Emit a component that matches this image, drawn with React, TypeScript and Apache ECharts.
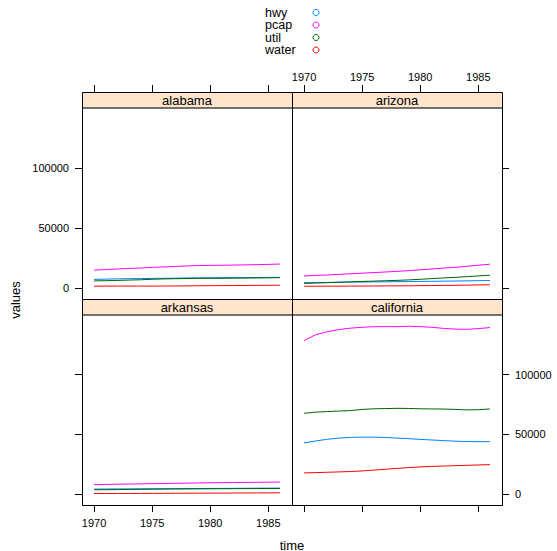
import React, { useEffect, useRef } from "react";
import * as echarts from "echarts";

const years = [1970, 1971, 1972, 1973, 1974, 1975, 1976, 1977, 1978, 1979, 1980, 1981, 1982, 1983, 1984, 1985, 1986];
const states = ["alabama", "arizona", "arkansas", "california"];
const variables = ["hwy", "pcap", "util", "water"];
const colors = ["#0080ff", "#ff00ff", "#006400", "#ff0000"];
const xTicks = [1970, 1975, 1980, 1985];
const yTicks = [0, 50000, 100000];

const alabamaHwy = [7326, 7526, 7765, 7908, 8026, 8158, 8228, 8381, 8500, 8644, 8700, 8761, 8800, 8850, 8900, 8950, 9000];
const alabamaPcap = [15033, 15502, 15972, 16406, 16763, 17316, 17733, 18112, 18480, 18881, 19012, 19120, 19250, 19400, 19600, 19800, 20100];
const alabamaUtil = [6051, 6254, 6442, 6756, 7002, 7406, 7705, 7886, 8044, 8212, 8208, 8222, 8300, 8400, 8500, 8650, 8800];
const alabamaWater = [1656, 1722, 1765, 1742, 1735, 1752, 1800, 1845, 1936, 2026, 2105, 2135, 2200, 2280, 2350, 2420, 2500];

const arizonaHwy = [4557, 4680, 4800, 4920, 5030, 5130, 5230, 5330, 5430, 5530, 5630, 5730, 5850, 5980, 6100, 6250, 6400];
const arizonaPcap = [10148, 10600, 11000, 11500, 12000, 12500, 13000, 13500, 14000, 14600, 15300, 16000, 16700, 17400, 18200, 19100, 20000];
const arizonaUtil = [3964, 4300, 4600, 4950, 5300, 5600, 5900, 6200, 6500, 6900, 7400, 8000, 8500, 9000, 9600, 10200, 10800];
const arizonaWater = [1628, 1650, 1680, 1700, 1750, 1800, 1850, 1900, 1950, 2000, 2100, 2200, 2300, 2400, 2550, 2700, 2800];

const arkansasHwy = [4300, 4400, 4450, 4500, 4550, 4600, 4650, 4700, 4750, 4800, 4850, 4900, 4950, 5000, 5050, 5100, 5150];
const arkansasPcap = [8000, 8200, 8400, 8550, 8700, 8850, 9000, 9150, 9300, 9450, 9600, 9700, 9800, 9900, 10000, 10100, 10200];
const arkansasUtil = [3700, 3800, 3900, 4000, 4100, 4200, 4300, 4400, 4450, 4500, 4550, 4600, 4650, 4700, 4750, 4800, 4850];
const arkansasWater = [600, 620, 640, 660, 700, 740, 780, 820, 860, 900, 940, 980, 1020, 1060, 1100, 1150, 1200];

const californiaHwy = [42961, 44600, 46000, 47000, 47600, 47800, 47800, 47500, 47000, 46500, 45900, 45400, 44900, 44400, 44100, 44000, 44000];
const californiaPcap = [128545, 133500, 136000, 137800, 139000, 139700, 140200, 140300, 140200, 140600, 140300, 139700, 138800, 138200, 138000, 138600, 139500];
const californiaUtil = [67747, 68700, 69200, 69600, 70000, 71000, 71500, 71700, 71900, 71800, 71500, 71400, 71300, 71000, 70600, 70700, 71400];
const californiaWater = [17837, 18100, 18400, 18700, 19000, 19500, 20200, 20900, 21600, 22300, 22900, 23300, 23600, 23900, 24200, 24500, 24800];

const stateData = [
  [alabamaHwy, alabamaPcap, alabamaUtil, alabamaWater],
  [arizonaHwy, arizonaPcap, arizonaUtil, arizonaWater],
  [arkansasHwy, arkansasPcap, arkansasUtil, arkansasWater],
  [californiaHwy, californiaPcap, californiaUtil, californiaWater],
];

const FONT = "'Liberation Sans', Arial, Helvetica, sans-serif";

export default function App() {
  const ref = useRef<HTMLDivElement>(null);
  useEffect(() => {
    if (!ref.current) return;
    const chart = echarts.init(ref.current, null, { renderer: "svg" });

    const colLeft = [82, 292];
    const colWidth = 210;
    const stripTop = [92, 299];
    const stripH = 16;
    const plotTop = [108, 315];
    const plotH = [191, 190];

    const grids: any[] = [];
    const xAxes: any[] = [];
    const yAxes: any[] = [];
    const series: any[] = [];
    const graphics: any[] = [];

    states.forEach((st, i) => {
      const col = i % 2;
      const row = Math.floor(i / 2);
      grids.push({ left: colLeft[col], top: plotTop[row], width: colWidth, height: plotH[row], containLabel: false });
      const xLabelShow = i === 1 || i === 2;
      xAxes.push({
        type: "value",
        gridIndex: i,
        min: 1968.96,
        max: 1987.04,
        position: row === 0 ? "top" : "bottom",
        offset: row === 0 ? stripH : 0,
        axisLine: { show: false, onZero: false },
        splitLine: { show: false },
        axisTick: { show: true, length: 7, customValues: xTicks, lineStyle: { color: "#000", width: 1 } },
        axisLabel: {
          show: xLabelShow,
          customValues: xTicks,
          formatter: (v: number) => String(v),
          fontSize: 11,
          fontFamily: FONT,
          color: "#000",
          margin: row === 0 ? 10 : 12,
        },
      });
      const yLabelShow = i === 0 || i === 3;
      yAxes.push({
        type: "value",
        gridIndex: i,
        min: -9000,
        max: 150000,
        position: col === 0 ? "left" : "right",
        axisLine: { show: false, onZero: false },
        splitLine: { show: false },
        axisTick: { show: true, length: 7, customValues: yTicks, lineStyle: { color: "#000", width: 1 } },
        axisLabel: {
          show: yLabelShow,
          customValues: yTicks,
          formatter: (v: number) => String(v),
          fontSize: 11,
          fontFamily: FONT,
          color: "#000",
          margin: 13,
        },
      });
      variables.forEach((v, k) => {
        series.push({
          type: "line",
          name: v,
          xAxisIndex: i,
          yAxisIndex: i,
          showSymbol: false,
          symbol: "none",
          lineStyle: { color: colors[k], width: 1 },
          itemStyle: { color: colors[k] },
          data: years.map((y, j) => [y, stateData[i][k][j]]),
        });
      });

      const x0 = colLeft[col];
      const sy = stripTop[row];
      graphics.push({
        type: "rect",
        shape: { x: x0, y: sy, width: colWidth, height: stripH },
        style: { fill: "#ffe5cc", stroke: "none" },
        z: 5,
      });
      graphics.push({
        type: "line",
        shape: { x1: x0, y1: sy + stripH, x2: x0 + colWidth, y2: sy + stripH },
        style: { stroke: "#444", lineWidth: 1.5 },
        z: 6,
      });
      graphics.push({
        type: "text",
        style: {
          text: st,
          x: x0 + colWidth / 2,
          y: sy + stripH / 2 + 0.5,
          textAlign: "center",
          textVerticalAlign: "middle",
          fontSize: 13,
          fontFamily: FONT,
          fill: "#000",
        },
        z: 7,
      });
      graphics.push({
        type: "rect",
        shape: { x: x0 + 0.5, y: sy + 0.5, width: colWidth, height: stripH + plotH[row] },
        style: { fill: "none", stroke: "#000", lineWidth: 1 },
        z: 8,
      });
    });

    const legendY = [12.5, 25, 37.5, 50];
    variables.forEach((v, k) => {
      graphics.push({
        type: "text",
        style: {
          text: v,
          x: 265,
          y: legendY[k],
          textAlign: "left",
          textVerticalAlign: "middle",
          fontSize: 12.5,
          lineHeight: 12,
          fontFamily: FONT,
          fill: "#000",
        },
      });
      graphics.push({
        type: "circle",
        shape: { cx: 316, cy: legendY[k], r: 3 },
        style: { fill: "none", stroke: colors[k], lineWidth: 1 },
      });
    });

    graphics.push({
      type: "text",
      style: {
        text: "time",
        x: 292,
        y: 545,
        textAlign: "center",
        textVerticalAlign: "middle",
        fontSize: 13,
        fontFamily: FONT,
        fill: "#000",
      },
    });
    graphics.push({
      type: "text",
      x: 15,
      y: 300,
      rotation: Math.PI / 2,
      style: {
        text: "values",
        x: 0,
        y: 0,
        textAlign: "center",
        textVerticalAlign: "middle",
        fontSize: 13,
        fontFamily: FONT,
        fill: "#000",
      },
    });

    chart.setOption({
      animation: false,
      backgroundColor: "#fff",
      grid: grids,
      xAxis: xAxes,
      yAxis: yAxes,
      series,
      graphic: { elements: graphics },
    });
    return () => chart.dispose();
  }, []);
  return (
    <div
      ref={ref}
      style={{ position: "fixed", left: 0, top: 0, width: 557, height: 551 }}
    />
  );
}
